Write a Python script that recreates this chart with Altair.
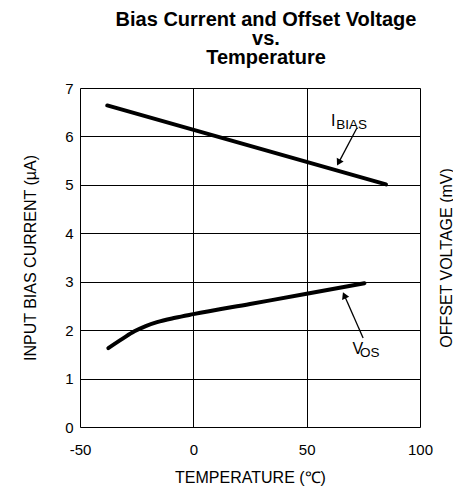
import altair as alt
import pandas as pd

# ---- data ----
ibias_temp = [-38, 85]
ibias_val = [6.64, 5.01]

vos_temp = [-37.5, -31, -26, -21, -16, -8, 0, 25, 50, 75.5]
vos_val = [1.63, 1.83, 1.975, 2.085, 2.165, 2.255, 2.33, 2.54, 2.75, 2.97]

x_ticks = [-50, 0, 50, 100]
y_ticks = [0, 1, 2, 3, 4, 5, 6, 7]

# annotation texts (main letter + subscript) and their anchor positions (data units)
lab_main = ["I", "V"]
lab_main_x = [60.7, 70.2]
lab_main_y = [6.21, 1.51]
lab_sub = ["BIAS", "OS"]
lab_sub_x = [63.0, 73.5]
lab_sub_y = [6.16, 1.44]

# arrows: tail -> head (data units) and head angle
arr_x = [72.1, 74.9]
arr_y = [6.17, 1.84]
arr_x2 = [64.1, 66.6]
arr_y2 = [5.46, 2.72]
arr_angle = [207.8, 336.3]

FONT = "Liberation Sans"

ib = pd.DataFrame({"t": ibias_temp, "v": ibias_val})
vo = pd.DataFrame({"t": vos_temp, "v": vos_val})
lm = pd.DataFrame({"x": lab_main_x, "y": lab_main_y, "s": lab_main})
ls = pd.DataFrame({"x": lab_sub_x, "y": lab_sub_y, "s": lab_sub})
ar = pd.DataFrame({"x": arr_x, "y": arr_y, "x2": arr_x2, "y2": arr_y2, "a": arr_angle})

xscale = alt.Scale(domain=[-50, 100], nice=False, zero=False)
yscale = alt.Scale(domain=[0, 7], nice=False, zero=False)

hyphen = "datum.value < 0 ? '-' + abs(datum.value) : '' + datum.value"

xaxis = alt.Axis(values=x_ticks, grid=True, gridColor="#000", gridWidth=1, gridOpacity=1,
                 ticks=False, domain=False, labelFontSize=15, labelPadding=15,
                 labelFlush=False, labelExpr=hyphen,
                 labelColor="#000", title="TEMPERATURE (\u2103)", titleFontSize=16,
                 titleFontWeight="normal", titleColor="#000", titlePadding=12,
                 labelFont=FONT, titleFont=FONT)
yaxis = alt.Axis(values=y_ticks, grid=True, gridColor="#000", gridWidth=1, gridOpacity=1,
                 ticks=False, domain=False, labelFontSize=15, labelPadding=7,
                 labelColor="#000", title="INPUT BIAS CURRENT (\u00b5A)", titleFontSize=16,
                 titleFontWeight="normal", titleColor="#000", titlePadding=26,
                 labelFont=FONT, titleFont=FONT)
yaxis_r = alt.Axis(orient="right", labels=False, ticks=False, domain=False, grid=False,
                   title="OFFSET VOLTAGE (mV)", titleFontSize=16, titleFontWeight="normal",
                   titleAngle=270, titleBaseline="top",
                   titleColor="#000", titlePadding=18, titleFont=FONT)

ibias_line = alt.Chart(ib).mark_line(color="#000", strokeWidth=4, strokeCap="round").encode(
    x=alt.X("t:Q", scale=xscale, axis=xaxis),
    y=alt.Y("v:Q", scale=yscale, axis=yaxis),
)

main_text = alt.Chart(lm).mark_text(align="left", baseline="alphabetic", fontSize=16,
                                    font=FONT, color="#000").encode(
    x=alt.X("x:Q", scale=xscale), y=alt.Y("y:Q", scale=yscale), text="s:N")
sub_text = alt.Chart(ls).mark_text(align="left", baseline="alphabetic", fontSize=13.5,
                                   font=FONT, color="#000").encode(
    x=alt.X("x:Q", scale=xscale), y=alt.Y("y:Q", scale=yscale), text="s:N")
arrows = alt.Chart(ar).mark_rule(color="#000", strokeWidth=1.3).encode(
    x=alt.X("x:Q", scale=xscale), y=alt.Y("y:Q", scale=yscale), x2="x2:Q", y2="y2:Q")
heads = alt.Chart(ar).mark_point(shape="triangle-up", filled=True, color="#000",
                                 size=60, opacity=1).encode(
    x=alt.X("x2:Q", scale=xscale), y=alt.Y("y2:Q", scale=yscale),
    angle=alt.Angle("a:Q", scale=None))

left = alt.layer(ibias_line, main_text, sub_text, arrows, heads)

vos_line = alt.Chart(vo).mark_line(color="#000", strokeWidth=4, strokeCap="round",
                                   interpolate="monotone").encode(
    x=alt.X("t:Q", scale=xscale),
    y=alt.Y("v:Q", scale=yscale, axis=yaxis_r),
)

chart = alt.layer(left, vos_line).resolve_scale(y="independent").properties(
    width=340, height=339,
    autosize=alt.AutoSizeParams(type="none"),
    padding={"left": 72, "top": 80, "right": 33, "bottom": 63},
    title=alt.TitleParams(text=["Bias Current and Offset Voltage", "vs.", "Temperature"],
                          anchor="middle", dx=16, fontSize=20, font=FONT, fontWeight="bold",
                          color="#000", lineHeight=19, offset=13),
).configure_view(stroke="#000", strokeWidth=2).configure(background="white")

chart.save("out.html", embed_options={"renderer": "svg", "actions": False})
